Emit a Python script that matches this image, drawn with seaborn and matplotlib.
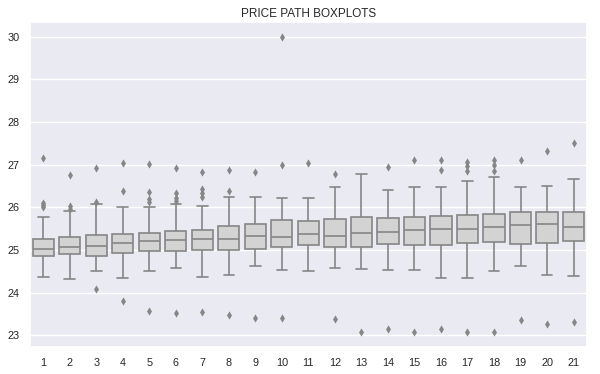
import numpy as np
import pandas as pd
import seaborn as sns
import matplotlib
matplotlib.use("Agg")
import matplotlib.pyplot as plt

steps = list(range(1, 22))
whisker_lo = [24.37, 24.33, 24.52, 24.35, 24.51, 24.59, 24.37, 24.41, 24.63, 24.54, 24.52,
              24.59, 24.56, 24.54, 24.54, 24.34, 24.35, 24.52, 24.63, 24.42, 24.40]
q1 = [24.86, 24.90, 24.86, 24.94, 24.98, 24.98, 25.00, 25.00, 25.03, 25.07, 25.12,
      25.07, 25.07, 25.13, 25.12, 25.12, 25.16, 25.19, 25.14, 25.16, 25.22]
medians = [25.03, 25.08, 25.09, 25.16, 25.22, 25.23, 25.25, 25.26, 25.33, 25.30, 25.37,
           25.33, 25.41, 25.42, 25.48, 25.50, 25.50, 25.55, 25.58, 25.62, 25.55]
q3 = [25.26, 25.31, 25.35, 25.37, 25.40, 25.45, 25.47, 25.56, 25.61, 25.70, 25.68,
      25.73, 25.77, 25.75, 25.78, 25.80, 25.83, 25.85, 25.88, 25.88, 25.88]
whisker_hi = [25.78, 25.92, 26.07, 26.01, 26.01, 26.08, 26.04, 26.24, 26.24, 26.22, 26.22,
              26.48, 26.78, 26.41, 26.48, 26.48, 26.62, 26.71, 26.48, 26.51, 26.66]
outliers = [
    [27.15, 26.09, 26.05, 26.00],
    [26.75, 26.02, 25.97],
    [26.91, 26.13, 24.09],
    [27.03, 26.39, 23.80],
    [27.02, 26.36, 26.19, 26.12, 23.56],
    [26.91, 26.33, 26.23, 26.15, 23.52],
    [26.83, 26.42, 26.33, 26.24, 23.55],
    [26.87, 26.39, 23.48],
    [26.83, 23.40],
    [30.00, 26.99, 23.40],
    [27.05],
    [26.77, 23.38],
    [23.07],
    [26.94, 23.15],
    [27.10, 23.07],
    [27.10, 26.87, 23.14],
    [27.06, 26.97, 26.86, 23.07],
    [27.10, 26.98, 26.86, 23.07],
    [27.10, 23.36],
    [27.31, 23.26],
    [27.50, 23.31],
]

# five-number summaries -> long table; whiskers span min..max, outliers drawn separately
box_rows = []
for i, s in enumerate(steps):
    for v in (whisker_lo[i], q1[i], medians[i], q3[i], whisker_hi[i]):
        box_rows.append({"step": s, "price": v})
boxes = pd.DataFrame(box_rows)
fliers = pd.DataFrame([{"step": s, "price": v} for s, vals in zip(steps, outliers) for v in vals])

sns.set_theme(style="darkgrid")
plt.rcParams["font.family"] = ["Liberation Sans", "DejaVu Sans"]

fill = "#d3d3d3"
line = "#868686"

fig = plt.figure(figsize=(6, 3.74), dpi=100)
ax = fig.add_axes([0.05, 0.073, 0.928, 0.868])
sns.boxplot(data=boxes, x="step", y="price", order=steps, whis=(0, 100), showfliers=False,
            color=fill, linecolor=line, linewidth=1.2, saturation=1, width=0.8, ax=ax)
sns.stripplot(data=fliers, x="step", y="price", order=steps, jitter=False, marker="d",
              color=line, size=4.2, linewidth=0, ax=ax)
ax.set_ylim(22.735, 30.34)
ax.set_xlabel("")
ax.set_ylabel("")
ax.tick_params(axis="x", labelsize=7.8, length=0, pad=8)
ax.tick_params(axis="y", labelsize=7.8, length=0, pad=7.5)
ax.set_title("PRICE PATH BOXPLOTS", fontsize=8.5, pad=4)
fig.savefig("out.png", dpi=100)
